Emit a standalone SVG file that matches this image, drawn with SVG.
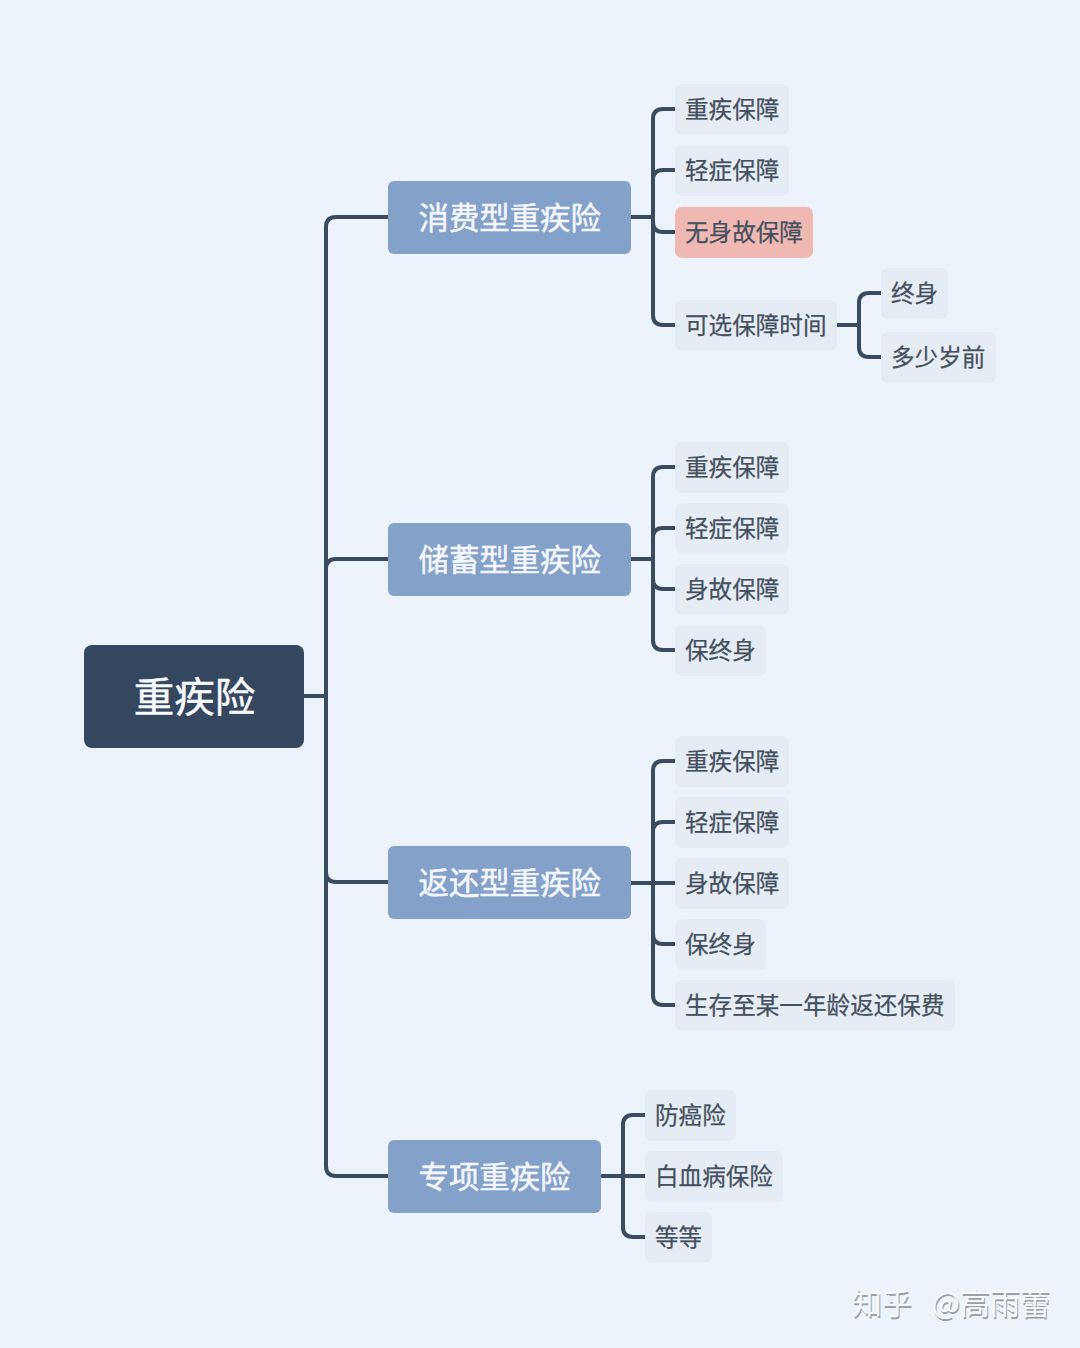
<svg xmlns="http://www.w3.org/2000/svg" width="1080" height="1348" viewBox="0 0 1080 1348">
<style>
text{font-family:"Noto Sans CJK SC","Noto Sans",sans-serif;dominant-baseline:central;transform:translateY(-1.3px)}
.c{fill:none;stroke:#3a4a5f;stroke-width:4}
.leaf rect{fill:#e6ecf3}
.leaf text{font-size:23.6px;fill:#44505f;stroke:#44505f;stroke-width:.25px}
.l1 rect{fill:#83a1c9}
.l1 text{font-size:30.4px;fill:#f3f7fc;stroke:#f3f7fc;stroke-width:.5px}
</style>
<rect width="1080" height="1348" fill="#ecf3fb"/>
<g id="connectors" class="c">
<path d="M303 696H326"/>
<path d="M388 217H336Q326 217 326 227V1166Q326 1176 336 1176H388"/>
<path d="M388 559H336Q326 559 326 569"/>
<path d="M388 882H336Q326 882 326 872"/>
<path d="M631 217H653"/>
<path d="M675 109H663Q653 109 653 119V315Q653 325 663 325H675"/>
<path d="M675 170H663Q653 170 653 180"/>
<path d="M675 232H663Q653 232 653 222"/>
<path d="M837 325H859"/>
<path d="M881 293H869Q859 293 859 303V347Q859 357 869 357H881"/>
<path d="M631 559H653"/>
<path d="M675 467H663Q653 467 653 477V640Q653 650 663 650H675"/>
<path d="M675 528H663Q653 528 653 538"/>
<path d="M675 589H663Q653 589 653 579"/>
<path d="M631 883H675"/>
<path d="M675 761H663Q653 761 653 771V995Q653 1005 663 1005H675"/>
<path d="M675 822H663Q653 822 653 832"/>
<path d="M675 944H663Q653 944 653 934"/>
<path d="M601 1176H645"/>
<path d="M645 1115H633Q623 1115 623 1125V1227Q623 1237 633 1237H645"/>
</g>
<g id="root"><rect x="84" y="645" width="220" height="103" rx="8" fill="#34475e"/><text x="194.500" y="696" font-size="40.500" fill="#f6f9fc" stroke="#f6f9fc" stroke-width=".5" text-anchor="middle">重疾险</text></g>
<g id="a" class="l1"><rect x="388" y="181" width="243" height="73" rx="6"/><text x="418.500" y="217">消费型重疾险</text></g>
<g id="b" class="l1"><rect x="388" y="523" width="243" height="73" rx="6"/><text x="418.500" y="559">储蓄型重疾险</text></g>
<g id="c" class="l1"><rect x="388" y="846" width="243" height="73" rx="6"/><text x="418.500" y="882">返还型重疾险</text></g>
<g id="d" class="l1"><rect x="388" y="1140" width="213" height="73" rx="6"/><text x="418.500" y="1176">专项重疾险</text></g>
<g id="a1" class="leaf"><rect x="675" y="84" width="114" height="51" rx="7"/><text x="685" y="109">重疾保障</text></g>
<g id="a2" class="leaf"><rect x="675" y="145" width="114" height="51" rx="7"/><text x="685" y="170">轻症保障</text></g>
<g id="a3" class="leaf"><rect x="675" y="207" width="138" height="51" rx="7" style="fill:#f0b8b2"/><text x="685" y="232">无身故保障</text></g>
<g id="a4" class="leaf"><rect x="675" y="300" width="162" height="51" rx="7"/><text x="685" y="325">可选保障时间</text></g>
<g id="a41" class="leaf"><rect x="881" y="268" width="67" height="51" rx="7"/><text x="891" y="293">终身</text></g>
<g id="a42" class="leaf"><rect x="881" y="332" width="115" height="51" rx="7"/><text x="891" y="357">多少岁前</text></g>
<g id="b1" class="leaf"><rect x="675" y="442" width="114" height="51" rx="7"/><text x="685" y="467">重疾保障</text></g>
<g id="b2" class="leaf"><rect x="675" y="503" width="114" height="51" rx="7"/><text x="685" y="528">轻症保障</text></g>
<g id="b3" class="leaf"><rect x="675" y="564" width="114" height="51" rx="7"/><text x="685" y="589">身故保障</text></g>
<g id="b4" class="leaf"><rect x="675" y="625" width="91" height="51" rx="7"/><text x="685" y="650">保终身</text></g>
<g id="c1" class="leaf"><rect x="675" y="736" width="114" height="51" rx="7"/><text x="685" y="761">重疾保障</text></g>
<g id="c2" class="leaf"><rect x="675" y="797" width="114" height="51" rx="7"/><text x="685" y="822">轻症保障</text></g>
<g id="c3" class="leaf"><rect x="675" y="858" width="114" height="51" rx="7"/><text x="685" y="883">身故保障</text></g>
<g id="c4" class="leaf"><rect x="675" y="919" width="91" height="51" rx="7"/><text x="685" y="944">保终身</text></g>
<g id="c5" class="leaf"><rect x="675" y="980" width="280" height="51" rx="7"/><text x="685" y="1005">生存至某一年龄返还保费</text></g>
<g id="d1" class="leaf"><rect x="645" y="1090" width="91" height="51" rx="7"/><text x="655" y="1115">防癌险</text></g>
<g id="d2" class="leaf"><rect x="645" y="1151" width="138" height="51" rx="7"/><text x="655" y="1176">白血病保险</text></g>
<g id="d3" class="leaf"><rect x="645" y="1212" width="67" height="51" rx="7"/><text x="655" y="1237">等等</text></g>
<g id="watermark" font-size="30" word-spacing="13"><text x="853" y="1304" fill="#9aa0a7">知乎 @高雨蕾</text><text x="852" y="1302" fill="#f4f7fb">知乎 @高雨蕾</text></g>
</svg>
